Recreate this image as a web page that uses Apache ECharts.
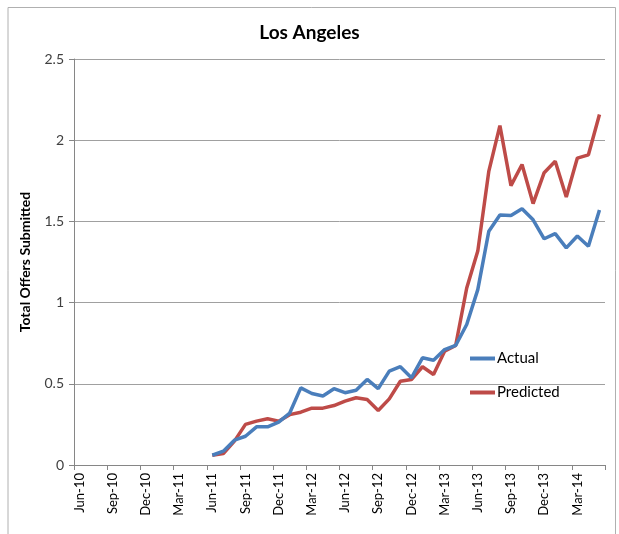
<!DOCTYPE html>
<html>
<head>
<meta charset="utf-8">
<script src="https://cdn.jsdelivr.net/npm/echarts@6/dist/echarts.min.js"></script>
<style>html,body{margin:0;padding:0;background:#fff}#c{width:619px;height:534px}</style>
</head>
<body>
<div id="c"></div>
<script>
const categories = ['Jun-10','Jul-10','Aug-10','Sep-10','Oct-10','Nov-10','Dec-10','Jan-11','Feb-11','Mar-11','Apr-11','May-11',
  'Jun-11','Jul-11','Aug-11','Sep-11','Oct-11','Nov-11','Dec-11','Jan-12','Feb-12','Mar-12','Apr-12','May-12',
  'Jun-12','Jul-12','Aug-12','Sep-12','Oct-12','Nov-12','Dec-12','Jan-13','Feb-13','Mar-13','Apr-13','May-13',
  'Jun-13','Jul-13','Aug-13','Sep-13','Oct-13','Nov-13','Dec-13','Jan-14','Feb-14','Mar-14','Apr-14','May-14'];
const actual = [null,null,null,null,null,null,null,null,null,null,null,null,
  0.06,0.085,0.153,0.177,0.235,0.235,0.264,0.32,
  0.475,0.44,0.425,0.47,0.445,0.46,0.527,0.47,0.578,0.605,0.537,0.66,
  0.645,0.711,0.736,0.865,1.08,1.44,1.54,1.536,1.578,1.51,1.393,1.425,
  1.337,1.41,1.347,1.57];
const predicted = [null,null,null,null,null,null,null,null,null,null,null,null,
  0.06,0.07,0.147,0.25,0.27,0.285,0.27,0.31,
  0.325,0.35,0.35,0.366,0.393,0.414,0.403,0.336,0.407,0.516,0.526,0.605,
  0.557,0.70,0.736,1.09,1.317,1.81,2.09,1.72,1.85,1.61,1.80,1.87,
  1.65,1.89,1.91,2.158];
const yTicks = [0, 0.5, 1, 1.5, 2, 2.5];

const font = 'Lato, "Open Sans", sans-serif';
const chart = echarts.init(document.getElementById('c'), null, {renderer: 'canvas'});
chart.setOption({
  animation: false,
  backgroundColor: '#fff',
  textStyle: {fontFamily: font},
  title: {
    text: 'Los Angeles', left: 'center', top: 18,
    textStyle: {fontFamily: font, fontSize: 19, fontWeight: 'bold', color: '#000'}
  },
  legend: {
    orient: 'vertical', left: 465, top: 346, itemGap: 19,
    itemWidth: 25, itemHeight: 4, icon: 'rect',
    textStyle: {fontFamily: font, fontSize: 15, color: '#000', padding: [0,0,0,-3]},
    data: ['Actual', 'Predicted']
  },
  grid: {left: 74, right: 14, top: 59, bottom: 69, containLabel: false},
  xAxis: {
    type: 'category', data: categories, boundaryGap: true,
    axisLine: {lineStyle: {color: '#868686', width: 1}},
    axisTick: {show: true, interval: 2, length: 5, lineStyle: {color: '#868686'}},
    axisLabel: {interval: 2, rotate: 90, fontFamily: font, fontSize: 13, color: '#000', margin: 8}
  },
  yAxis: {
    type: 'value', min: yTicks[0], max: yTicks[yTicks.length-1], interval: 0.5,
    name: 'Total Offers Submitted', nameLocation: 'middle', nameRotate: 90, nameGap: 42,
    nameTextStyle: {fontFamily: font, fontSize: 14, fontWeight: 'bold', color: '#000'},
    axisLine: {show: true, lineStyle: {color: '#868686', width: 1}},
    axisTick: {show: true, length: 5, lineStyle: {color: '#868686'}},
    axisLabel: {fontFamily: font, fontSize: 14, color: '#404040', margin: 10},
    splitLine: {show: true, lineStyle: {color: '#a0a0a0', width: 1}}
  },
  series: [
    {name: 'Actual', type: 'line', data: actual, showSymbol: false, symbol: 'none',
     lineStyle: {color: '#4A7EBB', width: 3.5}, itemStyle: {color: '#4A7EBB'}, z: 3},
    {name: 'Predicted', type: 'line', data: predicted, showSymbol: false, symbol: 'none',
     lineStyle: {color: '#BE4B48', width: 3.5}, itemStyle: {color: '#BE4B48'}, z: 2}
  ],
  graphic: [
    {type: 'polyline', shape: {points: [[8, 534], [8, 7.5], [615.5, 7.5], [615.5, 534]]},
     style: {stroke: '#b0b0b0', fill: null, lineWidth: 1}, silent: true}
  ]
});
</script>
</body>
</html>
